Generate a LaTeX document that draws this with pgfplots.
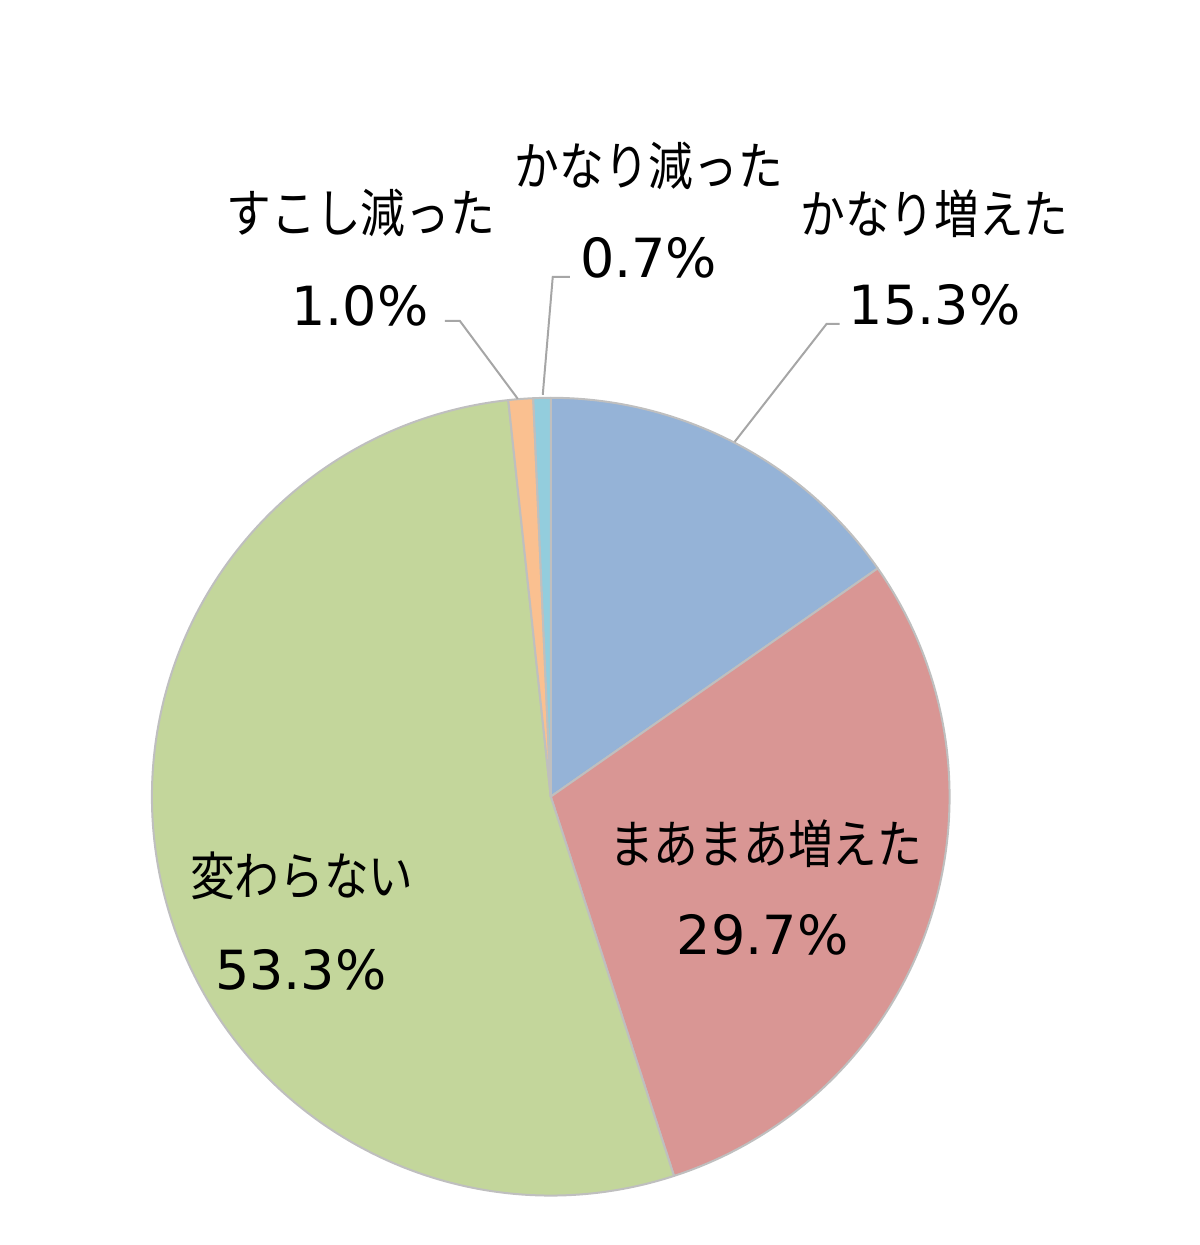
\documentclass[border=0pt]{standalone}
\usepackage{pgfplots}
\pgfplotsset{compat=1.18}
\usepackage{fontspec}
\newfontfamily\jp{Noto Sans CJK JP}
\newfontfamily\num{DejaVu Sans}
\definecolor{cA}{HTML}{95B3D7}
\definecolor{cB}{HTML}{D99694}
\definecolor{cC}{HTML}{C3D69B}
\definecolor{cD}{HTML}{FAC090}
\definecolor{cE}{HTML}{93CDDD}
\definecolor{edgeg}{HTML}{BFBFBF}
\definecolor{leadg}{HTML}{A6A6A6}
\newcommand\jl[1]{\scalebox{0.86}[1]{\fontsize{26pt}{30pt}\selectfont\jp #1}}
\newcommand\nl[1]{{\fontsize{27pt}{32pt}\selectfont\num #1}}
\def\slice#1#2{%
  \pgfmathsetmacro\sa{90-3.6*\cum}%
  \pgfmathsetmacro\cum{\cum+#1}%
  \pgfmathsetmacro\sb{90-3.6*\cum}%
  \edef\tmp{\noexpand\fill[#2,draw=edgeg,line width=1pt,line join=round] (axis cs:0,0) -- ++(\sa:199.5pt) arc[start angle=\sa,end angle=\sb,radius=199.5pt] -- cycle;}%
  \tmp
}
\begin{document}
\begin{tikzpicture}
\begin{axis}[x=0.5pt,y=0.5pt,xmin=-551,xmax=649,ymin=-448,ymax=797,
  hide axis,clip=false]
\path (axis cs:-551,-448) rectangle (axis cs:649,797);
% shares (%), clockwise from 12 o'clock
\def\cum{0}
\slice{15.3}{cA}
\slice{29.7}{cB}
\slice{53.3}{cC}
\slice{1.0}{cD}
\slice{0.7}{cE}
% leader lines
\draw[leadg,line width=1pt] (axis cs:289,473) -- (axis cs:276,473) -- (axis cs:184,355);
\draw[leadg,line width=1pt] (axis cs:-106,476) -- (axis cs:-91,476) -- (axis cs:-33,398);
\draw[leadg,line width=1pt] (axis cs:19,520) -- (axis cs:2,520) -- (axis cs:-8,402);
% labels
\node[anchor=base,inner sep=0] at (axis cs:98,611) {\jl{かなり減った}};
\node[anchor=base,inner sep=0] at (axis cs:98,519) {\nl{0.7\%}};
\node[anchor=base,inner sep=0] at (axis cs:-190,564) {\jl{すこし減った}};
\node[anchor=base,inner sep=0] at (axis cs:-191,471) {\nl{1.0\%}};
\node[anchor=base,inner sep=0] at (axis cs:384,563) {\jl{かなり増えた}};
\node[anchor=base,inner sep=0] at (axis cs:384,472) {\nl{15.3\%}};
\node[anchor=base,inner sep=0] at (axis cs:215,-67) {\jl{まあまあ増えた}};
\node[anchor=base,inner sep=0] at (axis cs:212,-158) {\nl{29.7\%}};
\node[anchor=base,inner sep=0] at (axis cs:-249,-99) {\jl{変わらない}};
\node[anchor=base,inner sep=0] at (axis cs:-250,-193) {\nl{53.3\%}};
\end{axis}
\end{tikzpicture}
\end{document}
